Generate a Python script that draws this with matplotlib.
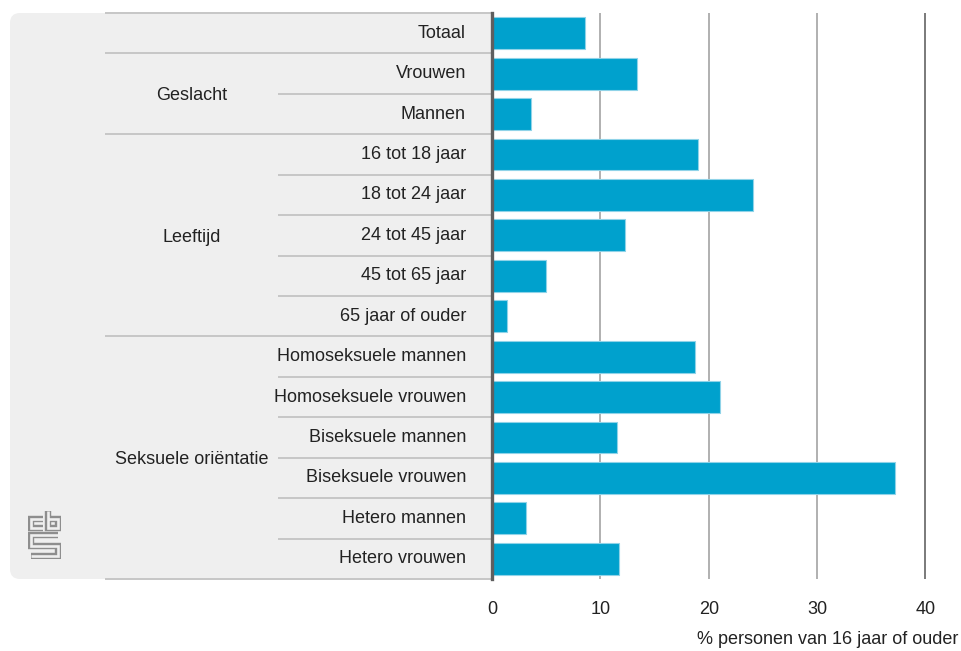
import matplotlib
matplotlib.use("Agg")
import matplotlib.pyplot as plt
import matplotlib.patheffects as pe
from matplotlib.patches import FancyBboxPatch

plt.rcParams['font.family'] = ['Liberation Sans', 'DejaVu Sans']

categories = ["Totaal", "Vrouwen", "Mannen", "16 tot 18 jaar", "18 tot 24 jaar",
              "24 tot 45 jaar", "45 tot 65 jaar", "65 jaar of ouder",
              "Homoseksuele mannen", "Homoseksuele vrouwen", "Biseksuele mannen",
              "Biseksuele vrouwen", "Hetero mannen", "Hetero vrouwen"]
values = [8.6, 13.4, 3.6, 19.0, 24.1, 12.3, 5.0, 1.4, 18.7, 21.0, 11.5, 37.2, 3.1, 11.7]
groups = [("", 0, 0), ("Geslacht", 1, 2), ("Leeftijd", 3, 7), ("Seksuele oriëntatie", 8, 13)]
xticks = [0, 10, 20, 30, 40]
xlabel = "% personen van 16 jaar of ouder"

W, H = 961, 651
fig = plt.figure(figsize=(W / 100, H / 100), dpi=100)

x0, x1, ytop, ybot = 492, 926, 13, 579
n = len(categories)

# background panel in pixel coordinates
bg = fig.add_axes([0, 0, 1, 1], zorder=0)
bg.set_xlim(0, W)
bg.set_ylim(H, 0)
bg.axis("off")
clipper = bg.add_patch(plt.Rectangle((0, 0), x0, H, facecolor="none", edgecolor="none"))
panel = FancyBboxPatch((10, ytop), x0 + 30 - 10, ybot - ytop,
                       boxstyle="round,pad=0,rounding_size=10",
                       facecolor="#efefef", edgecolor="none", zorder=0)
bg.add_patch(panel)
panel.set_clip_path(clipper)

# label panel axes
lab = fig.add_axes([10 / W, (H - ybot) / H, (x0 - 10) / W, (ybot - ytop) / H], zorder=1)
lab.set_xlim(10, x0)
lab.set_ylim(n - 0.5, -0.5)
lab.axis("off")

line_col = "#c6c6c6"
group_bounds = set()
for name, s, e in groups:
    group_bounds.add(s - 0.5)
    group_bounds.add(e + 0.5)
for b in [i - 0.5 for i in range(n + 1)]:
    start = 105 if b in group_bounds else 278
    lab.plot([start, x0], [b, b], color=line_col, lw=1.4, solid_capstyle="butt", zorder=1,
             clip_on=False)

for i, c in enumerate(categories):
    lab.text(466, i, c, ha="right", va="center", fontsize=13, color="#222222")
for name, s, e in groups:
    if name:
        lab.text(192, (s + e) / 2 + 0.05, name, ha="center", va="center", fontsize=13,
                 color="#222222")

# bars axes
ax = fig.add_axes([x0 / W, (H - ybot) / H, (x1 - x0) / W, (ybot - ytop) / H], zorder=2)
ax.set_facecolor("none")
ax.set_xlim(0, 40.05)
ax.set_ylim(n - 0.5, -0.5)
ax.barh(range(n), values, height=0.79, color="#00a1cd", edgecolor="#8fd3e8", linewidth=0.8, zorder=3)
for t in xticks[1:]:
    ax.axvline(t, color="#b0b0b0" if t < 40 else "#7a7a7a", lw=1.4, zorder=1)
for s in ["top", "right", "bottom"]:
    ax.spines[s].set_visible(False)
ax.spines["left"].set_color("#5f5f5f")
ax.spines["left"].set_linewidth(2.4)
ax.spines["left"].set_zorder(5)
ax.set_yticks([])
ax.set_xticks(xticks)
ax.set_xticklabels([str(t) for t in xticks], fontsize=13, color="#222222")
ax.tick_params(axis="x", length=0, pad=16)
fig.text(958 / W, 1 - 639 / H, xlabel, ha="right", va="center", fontsize=13, color="#222222")

# cbs logo
lg = fig.add_axes([28 / W, (H - 559) / H, 33 / W, 50 / H], zorder=3)
lg.set_xlim(0, 10.4)
lg.set_ylim(0, 16.3)
lg.axis("off")
effects = [pe.Stroke(linewidth=4.6, foreground="#8e8e8e"), pe.Stroke(linewidth=1.9, foreground="#efefef")]
paths = [
    [(4.7, 13.1), (1.0, 13.1), (1.0, 10.0), (4.7, 10.0)],
    [(6.3, 15.5), (6.3, 10.0), (9.4, 10.0), (9.4, 13.1), (6.3, 13.1)],
    [(9.4, 7.8), (1.0, 7.8), (1.0, 4.4), (9.4, 4.4), (9.4, 1.0), (1.0, 1.0)],
]
for p in paths:
    xs, ys = zip(*p)
    lg.plot(xs, ys, color="none", lw=0.1, path_effects=effects, solid_joinstyle="miter",
            solid_capstyle="butt")

fig.savefig("out.png", dpi=100)
